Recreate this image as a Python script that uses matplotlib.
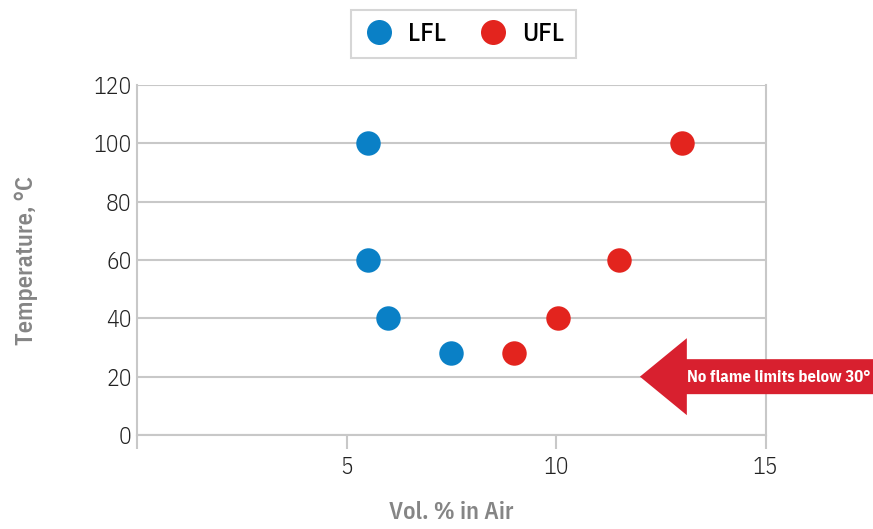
""" Flammability limits vs temperature chart """

import matplotlib
import matplotlib.pyplot as plt
from matplotlib.lines import Line2D
from matplotlib.patches import Polygon

matplotlib.use('Agg')
plt.rcParams['font.family'] = ['IBM Plex Sans Condensed', 'DejaVu Sans']

LFL_VOL = [5.5, 5.5, 6.0, 7.5]
LFL_TEMP = [100, 60, 40, 28]
UFL_VOL = [9.0, 10.05, 11.5, 13.0]
UFL_TEMP = [28, 40, 60, 100]
X_TICKS = [0, 5, 10, 15]
X_LABELS = ["", "5", "10", "15"]
Y_TICKS = [0, 20, 40, 60, 80, 100, 120]

BLUE = "#0a80c6"
RED = "#e3241e"
ARROW_RED = "#d8202f"
GRID = "#c8c8c8"

fig = plt.figure(figsize=(8.73, 5.29), dpi=100)
ax = fig.add_axes([0.157, 0.1777, 0.72, 0.6616])

ax.scatter(LFL_VOL, LFL_TEMP, s=310, color=BLUE, zorder=3, linewidths=0)
ax.scatter(UFL_VOL, UFL_TEMP, s=310, color=RED, zorder=3, linewidths=0)

ax.set_xlim(0, 15)
ax.set_ylim(0, 120)
ax.set_xticks(X_TICKS)
ax.set_xticklabels(X_LABELS)
ax.set_yticks(Y_TICKS)
ax.grid(axis="y", color=GRID, linewidth=1.5)
ax.set_axisbelow(True)

ax.spines["top"].set_visible(False)
for side in ["left", "right", "bottom"]:
    ax.spines[side].set_color(GRID)
    ax.spines[side].set_linewidth(1.5)

ax.tick_params(axis="x", length=10, width=1.5, color=GRID, pad=5,
               labelsize=17, labelcolor="#222222")
ax.tick_params(axis="y", length=0, pad=4, labelsize=17, labelcolor="#222222")
for lab in ax.get_xticklabels() + ax.get_yticklabels():
    lab.set_fontweight(300)

ax.set_xlabel("Vol. % in Air", fontsize=17.5, color="#858585",
              fontweight=600, labelpad=16)
ax.set_ylabel("Temperature, °C", fontsize=17.5, color="#858585",
              fontweight=600, labelpad=40)

# arrow annotation
arrow_pts = [(12.0, 20), (13.12, 33.2), (13.12, 26), (17.7, 26),
             (17.7, 14), (13.12, 14), (13.12, 6.8)]
ax.add_patch(Polygon(arrow_pts, closed=True, color=ARROW_RED,
                     clip_on=False, zorder=4, linewidth=0))
ax.text(15.32, 19.8, "No flame limits below 30°", color="white",
        fontsize=12, fontweight="bold", ha="center", va="center",
        zorder=5, clip_on=False)

handles = [
    Line2D([], [], marker="o", linestyle="", markersize=18,
           markerfacecolor=BLUE, markeredgewidth=0, label="LFL"),
    Line2D([], [], marker="o", linestyle="", markersize=18,
           markerfacecolor=RED, markeredgewidth=0, label="UFL"),
]
leg = fig.legend(handles=handles, loc="center", bbox_to_anchor=(0.531, 0.936),
                 ncol=2, frameon=True, fancybox=False, fontsize=19,
                 handletextpad=0.5, columnspacing=1.2, borderpad=0.45,
                 handlelength=1.2)
leg.get_frame().set_edgecolor("#cccccc")
leg.get_frame().set_linewidth(1.5)
for t in leg.get_texts():
    t.set_fontweight(500)

fig.savefig("out.png", dpi=100)
